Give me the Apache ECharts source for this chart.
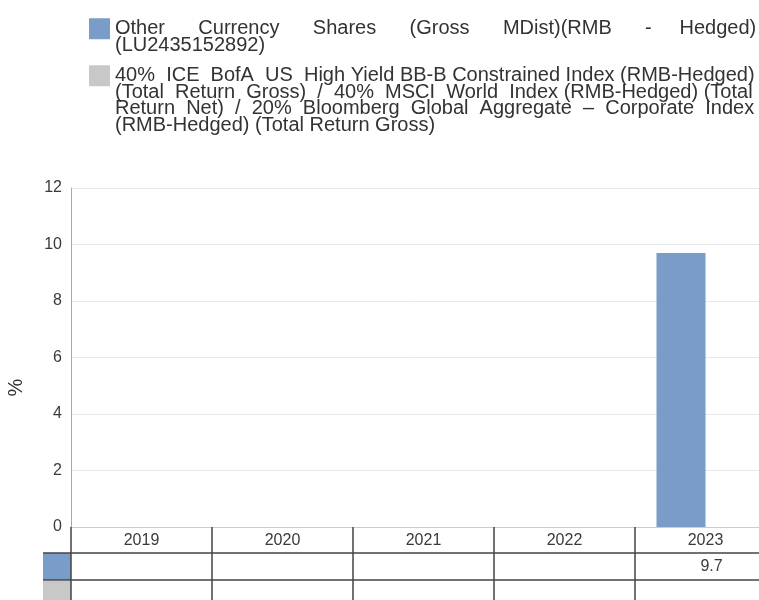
<!DOCTYPE html>
<html>
<head>
<meta charset="utf-8">
<script src="https://cdn.jsdelivr.net/npm/echarts@6/dist/echarts.min.js"></script>
<style>
  html, body { margin: 0; padding: 0; background: #fff; }
  #chart { width: 759px; height: 600px; }
</style>
</head>
<body>
<div id="chart"></div>
<script>
// data
const years = ["2019", "2020", "2021", "2022", "2023"];
const fundName = "Other Currency Shares (Gross MDist)(RMB - Hedged) (LU2435152892)";
const indexName = "40% ICE BofA US High Yield BB-B Constrained Index (RMB-Hedged) (Total Return Gross) / 40% MSCI World Index (RMB-Hedged) (Total Return Net) / 20% Bloomberg Global Aggregate – Corporate Index (RMB-Hedged) (Total Return Gross)";
const fundReturns = [null, null, null, null, 9.7];
const indexReturns = [null, null, null, null, null];
const yMin = 0, yMax = 12, yStep = 2;

// legend lines as wrapped in the original
const fundLines = ["Other Currency Shares (Gross MDist)(RMB - Hedged)", "(LU2435152892)"];
const indexLines = [
  "40% ICE BofA US High Yield BB-B Constrained Index (RMB-Hedged)",
  "(Total Return Gross) / 40% MSCI World Index (RMB-Hedged) (Total",
  "Return Net) / 20% Bloomberg Global Aggregate – Corporate Index",
  "(RMB-Hedged) (Total Return Gross)"
];

const FONT = '"Liberation Sans", Arial, sans-serif';
const legendSize = 20;
const lineH = 16.5;
const blue = "#7a9cc8";
const grey = "#c8c8c8";
const dark = "#444";

// pad spaces so every line but the last fills the width (text-align: justify)
const ctx = document.createElement("canvas").getContext("2d");
ctx.font = legendSize + "px " + FONT;
function justify(lines, width) {
  return lines.map(function (line, i) {
    if (i === lines.length - 1) return line;
    const words = line.split(" ");
    const gaps = words.length - 1;
    const spaceW = ctx.measureText(" ").width;
    const extra = Math.max(0, Math.round((width - ctx.measureText(line).width) / spaceW));
    let out = words[0];
    for (let g = 0; g < gaps; g++) {
      const n = 1 + Math.floor(extra / gaps) + (g < extra % gaps ? 1 : 0);
      out += " ".repeat(n) + words[g + 1];
    }
    return out;
  });
}

// legend text is centred on the icon, so blank lines on top put the first line level with it
function legendFor(name, lines, iconMid) {
  const blanks = lines.length - 1;
  const box = (lines.length + blanks) * lineH;
  const text = new Array(blanks).fill(" ").concat(justify(lines, 640)).join("\n");
  return {
    data: [name],
    orient: "vertical",
    left: 89,
    top: iconMid - box / 2,
    padding: 0,
    itemWidth: 21,
    itemHeight: 21,
    icon: "rect",
    selectedMode: false,
    formatter: function () { return text; },
    textStyle: { fontFamily: FONT, fontSize: legendSize, lineHeight: lineH, color: "#333" }
  };
}

const chart = echarts.init(document.getElementById("chart"));

const rowAxis = function (values, offset) {
  return {
    type: "category",
    gridIndex: 0,
    position: "bottom",
    offset: offset,
    data: years,
    axisLine: { lineStyle: { color: dark, width: 1.5 } },
    axisTick: { show: false },
    axisLabel: {
      interval: 0,
      margin: 6,
      fontFamily: FONT,
      fontSize: 16,
      color: "#3a3a3a",
      padding: [0, 0, 0, 12],
      formatter: function (v, i) {
        return values[i] == null ? "" : values[i].toFixed(1);
      }
    }
  };
};

const option = {
  animation: false,
  backgroundColor: "#fff",
  legend: [
    legendFor(fundName, fundLines, 27),
    legendFor(indexName, indexLines, 74)
  ],
  // the plot runs past the right edge of the picture
  grid: { left: 71, top: 188, width: 705, height: 339, outerBoundsMode: "none", containLabel: false },
  xAxis: [
    {
      type: "category",
      data: years,
      axisLine: { lineStyle: { color: "#ccc", width: 1 } },
      axisTick: { show: true, length: 73, lineStyle: { color: dark, width: 1.5 } },
      axisLabel: { interval: 0, margin: 6, fontFamily: FONT, fontSize: 16, color: "#3a3a3a" }
    },
    rowAxis(fundReturns, 26),
    rowAxis(indexReturns, 53)
  ],
  yAxis: {
    type: "value",
    min: yMin,
    max: yMax,
    interval: yStep,
    name: "%",
    nameLocation: "middle",
    nameGap: 45,
    nameTextStyle: { fontFamily: FONT, fontSize: 20, color: "#333", padding: [0, 60, 0, 0] },
    axisLine: { show: true, lineStyle: { color: "#aaa" } },
    axisTick: { show: false },
    axisLabel: { margin: 9, fontFamily: FONT, fontSize: 16, color: "#3a3a3a" },
    splitLine: { lineStyle: { color: "#e8e8e8" } }
  },
  series: [
    {
      name: fundName,
      type: "bar",
      data: fundReturns,
      barWidth: 49,
      barGap: "0%",
      itemStyle: { color: blue }
    },
    {
      name: indexName,
      type: "bar",
      data: indexReturns,
      barWidth: 49,
      barGap: "0%",
      itemStyle: { color: grey }
    }
  ],
  // row swatches of the data table
  graphic: [
    { type: "rect", shape: { x: 43, y: 553, width: 28, height: 27 }, style: { fill: blue } },
    { type: "rect", shape: { x: 43, y: 581, width: 28, height: 19 }, style: { fill: grey } },
    { type: "line", shape: { x1: 43, y1: 553, x2: 71, y2: 553 }, style: { stroke: dark, lineWidth: 1.5 } },
    { type: "line", shape: { x1: 43, y1: 580, x2: 71, y2: 580 }, style: { stroke: dark, lineWidth: 1.5 } }
  ]
};

chart.setOption(option);
</script>
</body>
</html>
